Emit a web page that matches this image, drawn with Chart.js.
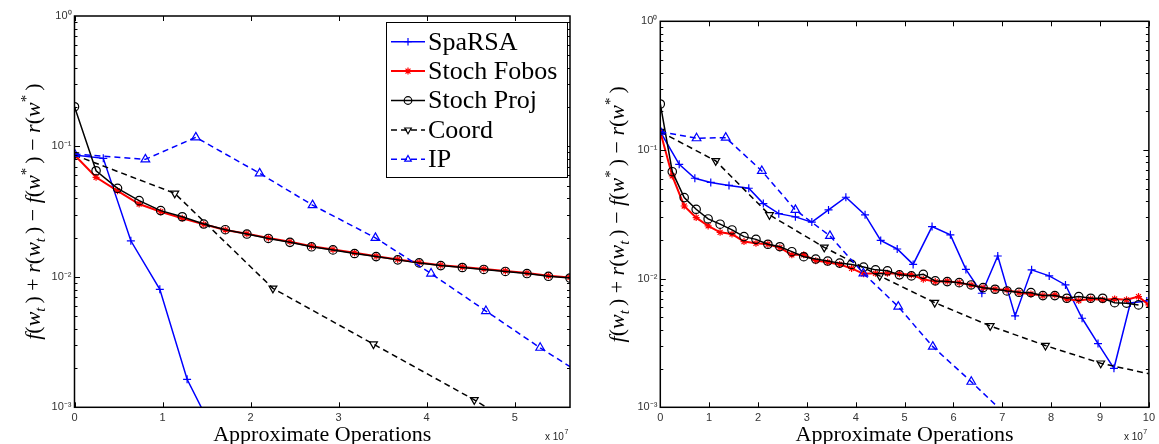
<!DOCTYPE html>
<html>
<head>
<meta charset="utf-8">
<script src="https://cdn.jsdelivr.net/npm/chart.js@4.4.1/dist/chart.umd.min.js"></script>
<style>
  html, body { margin: 0; padding: 0; background: #fff; }
  #wrap { position: relative; width: 1159px; height: 444px; }
  canvas { position: absolute; top: 0; }
  #left { left: 0; }
  #right { left: 580px; }
</style>
</head>
<body>
<div id="wrap">
  <canvas id="left" width="580" height="444"></canvas>
  <canvas id="right" width="579" height="444"></canvas>
</div>
<script>
// series names (legend order)
const seriesNames = ['SpaRSA', 'Stoch Fobos', 'Stoch Proj', 'Coord', 'IP'];

// x values are in units of 1e7 operations
// ---- left panel ----
const leftSpaRSAX = [0, 0.327, 0.640, 0.969, 1.279, 1.590];
const leftSpaRSAY = [0.0859, 0.0810, 0.0189, 0.00802, 0.00164, 0.00063];

const leftStochX = [0, 0.245, 0.489, 0.734, 0.979, 1.224, 1.468, 1.713, 1.958, 2.202, 2.447, 2.692,
  2.936, 3.181, 3.426, 3.671, 3.915, 4.160, 4.405, 4.649, 4.894, 5.139, 5.383, 5.628];
const leftFobosY = [0.0859, 0.0580, 0.0457, 0.0362, 0.0316, 0.0281, 0.0253, 0.0229, 0.0214, 0.0199, 0.0186, 0.0172,
  0.0162, 0.0153, 0.0144, 0.0136, 0.0129, 0.0123, 0.0119, 0.0115, 0.0111, 0.0107, 0.0102, 0.0099];
const leftProjY = [0.2015, 0.0651, 0.0477, 0.0384, 0.0322, 0.0289, 0.0254, 0.0230, 0.0213, 0.0197, 0.0184, 0.0170,
  0.0161, 0.0151, 0.0143, 0.0135, 0.0128, 0.0122, 0.0118, 0.0114, 0.0110, 0.0106, 0.0101, 0.0098];

const leftCoordX = [0, 1.139, 2.254, 3.396, 4.541, 5.675];
const leftCoordY = [0.0859, 0.0437, 0.00816, 0.00305, 0.00114, 0.00039];

const leftIPX = [0, 0.805, 1.378, 2.103, 2.704, 3.418, 4.050, 4.673, 5.289, 5.913];
const leftIPY = [0.0875, 0.0796, 0.1174, 0.0622, 0.0355, 0.0199, 0.0106, 0.00547, 0.00286, 0.00155];

// ---- right panel ----
const rightSpaRSAX = [0, 0.387, 0.707, 1.033, 1.406, 1.811, 2.109, 2.425, 2.765, 3.101,
  3.443, 3.798, 4.191, 4.511, 4.849, 5.175, 5.562, 5.937, 6.255, 6.581,
  6.907, 7.262, 7.600, 7.960, 8.293, 8.633, 8.959, 9.285, 9.621, 9.957];
const rightSpaRSAY = [0.1387, 0.0774, 0.0603, 0.0559, 0.0530, 0.0504, 0.0383, 0.0320, 0.0302, 0.0275,
  0.0342, 0.0429, 0.0313, 0.0198, 0.0170, 0.0129, 0.0254, 0.0219, 0.0118, 0.00770,
  0.0150, 0.00513, 0.0117, 0.0105, 0.00893, 0.00492, 0.00313, 0.00201, 0.00647, 0.00671];

const rightProjX = [0, 0.245, 0.489, 0.734, 0.979, 1.224, 1.468, 1.713, 1.958, 2.202,
  2.447, 2.692, 2.936, 3.181, 3.426, 3.671, 3.915, 4.160, 4.405, 4.649,
  4.894, 5.139, 5.383, 5.628, 5.873, 6.118, 6.362, 6.607, 6.852, 7.096,
  7.341, 7.586, 7.830, 8.075, 8.320, 8.565, 8.809, 9.054, 9.299, 9.543, 9.788];
const rightProjY = [0.2277, 0.0678, 0.0426, 0.0346, 0.0291, 0.0265, 0.0239, 0.0212, 0.0202, 0.0185,
  0.0177, 0.0162, 0.0148, 0.0142, 0.0137, 0.0132, 0.0129, 0.0123, 0.0117, 0.0115,
  0.0107, 0.0105, 0.0108, 0.0096, 0.00948, 0.00931, 0.00893, 0.00851, 0.00827, 0.00802,
  0.00783, 0.00778, 0.00738, 0.00738, 0.00704, 0.00725, 0.00704, 0.00704, 0.00650, 0.00644, 0.00625];

const rightFobosX = [0, 0.245, 0.489, 0.734, 0.979, 1.224, 1.468, 1.713, 1.958, 2.202,
  2.447, 2.692, 2.936, 3.181, 3.426, 3.671, 3.915, 4.160, 4.405, 4.649,
  4.894, 5.139, 5.383, 5.628, 5.873, 6.118, 6.362, 6.607, 6.852, 7.096,
  7.341, 7.586, 7.830, 8.075, 8.320, 8.565, 8.809, 9.054, 9.299, 9.543, 9.788, 10.0];
const rightFobosY = [0.1387, 0.0628, 0.0367, 0.0298, 0.0257, 0.0229, 0.0222, 0.0194, 0.0188, 0.0185,
  0.0174, 0.0153, 0.0153, 0.0138, 0.0134, 0.0129, 0.0120, 0.0109, 0.0110, 0.0110,
  0.0109, 0.0107, 0.00990, 0.00948, 0.00955, 0.00931, 0.00893, 0.00851, 0.00827, 0.00817,
  0.00778, 0.00760, 0.00738, 0.00747, 0.00692, 0.00675, 0.00695, 0.00685, 0.00695, 0.00685, 0.00725, 0.00625];

const rightCoordX = [0, 1.135, 2.235, 3.356, 4.491, 5.617, 6.752, 7.883, 9.014, 10.15];
const rightCoordY = [0.1387, 0.0822, 0.0313, 0.0175, 0.0105, 0.00651, 0.00429, 0.00302, 0.00220, 0.00177];

const rightIPX = [0, 0.742, 1.339, 2.078, 2.765, 3.472, 4.157, 4.870, 5.577, 6.365, 7.080];
const rightIPY = [0.1387, 0.1233, 0.1247, 0.0687, 0.0342, 0.0215, 0.0110, 0.00606, 0.00296, 0.00158, 0.00087];

// ticks
const leftXTicks = [0, 1, 2, 3, 4, 5];
const rightXTicks = [0, 1, 2, 3, 4, 5, 6, 7, 8, 9, 10];
const yTicks = [0.001, 0.01, 0.1, 1];
const yTickLabels = ['10\u207B\u00B3', '10\u207B\u00B2', '10\u207B\u00B9', '10\u2070'];

// line / marker styles per series
const styles = [
  { color: '#0000ff', dash: [], pointStyle: 'cross', radius: 4, rot: 0, width: 1.5 },
  { color: '#ff0000', dash: [], pointStyle: 'star', radius: 3.5, rot: 0, width: 2 },
  { color: '#000000', dash: [], pointStyle: 'circle', radius: 4.2, rot: 0, width: 1.5 },
  { color: '#000000', dash: [6, 4], pointStyle: 'triangle', radius: 4.5, rot: 180, width: 1.5 },
  { color: '#0000ff', dash: [6, 4], pointStyle: 'triangle', radius: 5, rot: 0, width: 1.5 }
];

const serif = '"Liberation Serif", "Times New Roman", serif';
const sans = '"Liberation Sans", Arial, sans-serif';

function pts(xs, ys) {
  return xs.map((x, i) => ({ x: x, y: ys[i] }));
}

function makeDatasets(series) {
  return series.map((s, i) => ({
    label: seriesNames[i],
    data: pts(s[0], s[1]),
    borderColor: styles[i].color,
    borderWidth: styles[i].width,
    borderDash: styles[i].dash,
    pointStyle: styles[i].pointStyle,
    pointRotation: styles[i].rot,
    pointRadius: styles[i].radius,
    pointBorderColor: styles[i].color,
    pointBackgroundColor: 'rgba(0,0,0,0)',
    pointBorderWidth: 1.2,
    tension: 0,
    fill: false,
    order: 4 - i
  }));
}

// y label with sub/superscripts
const yTitleParts = [
  ['f', 'i'], ['(', 'n'], ['w', 'i'], ['t', 'sub'], [')', 'n'], [' + ', 'n'],
  ['r', 'i'], ['(', 'n'], ['w', 'i'], ['t', 'sub'], [')', 'n'], [' \u2212 ', 'n'],
  ['f', 'i'], ['(', 'n'], ['w', 'i'], ['*', 'sup'], [')', 'n'], [' \u2212 ', 'n'],
  ['r', 'i'], ['(', 'n'], ['w', 'i'], ['*', 'sup'], [')', 'n']
];

function partFont(kind) {
  if (kind === 'i') return 'italic 22px ' + serif;
  if (kind === 'sub') return 'italic 15px ' + serif;
  if (kind === 'sup') return '15px ' + serif;
  return '22px ' + serif;
}

function partWidth(ctx, p) {
  ctx.font = partFont(p[1]);
  const extra = (p[1] === 'sub' || p[1] === 'sup') ? 4 : 0;
  return ctx.measureText(p[0]).width + extra;
}

// MATLAB-like box, inward ticks, y title, legend, exponent note
const matlabAxes = {
  id: 'matlabAxes',
  afterDatasetsDraw(chart, args, opts) {
    const ctx = chart.ctx;
    const a = chart.chartArea;
    const xs = chart.scales.x, ys = chart.scales.y;
    ctx.save();

    ctx.strokeStyle = '#000';
    ctx.lineWidth = 1;
    ctx.beginPath();
    xs.ticks.forEach(t => {
      const px = Math.round(xs.getPixelForValue(t.value)) + 0.5;
      ctx.moveTo(px, a.bottom); ctx.lineTo(px, a.bottom - 5);
      ctx.moveTo(px, a.top); ctx.lineTo(px, a.top + 5);
    });
    for (let d = -3; d < 0; d++) {
      for (let m = 1; m <= 9; m++) {
        const v = m * Math.pow(10, d);
        const py = Math.round(ys.getPixelForValue(v)) + 0.5;
        const len = m === 1 ? 5.5 : 3;
        ctx.moveTo(a.left, py); ctx.lineTo(a.left + len, py);
        ctx.moveTo(a.right, py); ctx.lineTo(a.right - len, py);
      }
    }
    ctx.stroke();

    ctx.lineWidth = 1.5;
    ctx.strokeRect(a.left, a.top, a.right - a.left, a.bottom - a.top);

    // y title
    ctx.save();
    ctx.translate(opts.titleX, (a.top + a.bottom) / 2);
    ctx.rotate(-Math.PI / 2);
    ctx.fillStyle = '#000';
    ctx.textBaseline = 'alphabetic';
    ctx.textAlign = 'left';
    let total = 0;
    yTitleParts.forEach(p => { total += partWidth(ctx, p); });
    let tx = -total / 2;
    yTitleParts.forEach(p => {
      const w = partWidth(ctx, p);
      ctx.font = partFont(p[1]);
      let dy = 7;
      if (p[1] === 'sub') dy += 5;
      if (p[1] === 'sup') dy -= 9;
      ctx.fillText(p[0], tx, dy);
      tx += w;
    });
    ctx.restore();

    // x 10^7
    ctx.fillStyle = '#222';
    ctx.textAlign = 'left';
    ctx.textBaseline = 'alphabetic';
    ctx.font = '10px ' + sans;
    const ex = a.right - 25;
    ctx.fillText('x 10', ex, 440);
    const w = ctx.measureText('x 10').width;
    ctx.font = '7px ' + sans;
    ctx.fillText('7', ex + w + 0.5, 434);

    // legend
    if (opts.legend) {
      const L = opts.legend;
      ctx.fillStyle = '#fff';
      ctx.fillRect(L.x, L.y, L.w, L.h);
      ctx.strokeStyle = '#000';
      ctx.lineWidth = 1;
      ctx.strokeRect(L.x + 0.5, L.y + 0.5, L.w, L.h);
      chart.data.datasets.forEach((ds, i) => {
        const cy = L.y + L.first + i * L.row;
        ctx.save();
        ctx.strokeStyle = ds.borderColor;
        ctx.lineWidth = ds.borderWidth;
        ctx.setLineDash(ds.borderDash);
        ctx.beginPath();
        ctx.moveTo(L.x + 5, cy);
        ctx.lineTo(L.x + 39, cy);
        ctx.stroke();
        ctx.setLineDash([]);
        ctx.lineWidth = 1.2;
        ctx.fillStyle = 'rgba(0,0,0,0)';
        Chart.helpers.drawPoint(ctx, {
          pointStyle: ds.pointStyle, rotation: ds.pointRotation,
          radius: Math.min(ds.pointRadius, 3.8), borderWidth: 1.2
        }, L.x + 22, cy);
        ctx.restore();
        ctx.fillStyle = '#000';
        ctx.font = '26px ' + serif;
        ctx.textBaseline = 'middle';
        ctx.fillText(ds.label, L.x + 42, cy + 1);
      });
    }
    ctx.restore();
  }
};

function makeChart(id, series, xMax, xTicks, padRight, padTop, yWidth, titleX, legend) {
  return new Chart(document.getElementById(id), {
    type: 'line',
    data: { datasets: makeDatasets(series) },
    plugins: [matlabAxes],
    options: {
      responsive: false,
      animation: false,
      layout: { padding: { left: 0, right: padRight, top: padTop, bottom: 0 } },
      plugins: {
        legend: { display: false },
        tooltip: { enabled: false },
        matlabAxes: { titleX: titleX, legend: legend }
      },
      scales: {
        x: {
          type: 'linear',
          min: 0,
          max: xMax,
          afterBuildTicks: s => { s.ticks = xTicks.map(v => ({ value: v })); },
          afterFit: s => { s.height = 36.7; },
          grid: { display: false, drawTicks: false },
          border: { display: false },
          ticks: {
            padding: 4,
            color: '#333',
            font: { family: sans, size: 11 },
            callback: v => String(v)
          },
          title: {
            display: true,
            text: 'Approximate Operations',
            color: '#000',
            font: { family: serif, size: 22 },
            padding: { top: 0, bottom: -4 }
          }
        },
        y: {
          type: 'logarithmic',
          min: 0.001,
          max: 1,
          afterBuildTicks: s => { s.ticks = yTicks.map(v => ({ value: v })); },
          afterFit: s => { s.width = yWidth; },
          grid: { display: false, drawTicks: false },
          border: { display: false },
          ticks: {
            padding: 3,
            color: '#333',
            autoSkip: false,
            font: { family: sans, size: 11 },
            callback: (v, i) => yTickLabels[i]
          }
        }
      }
    }
  });
}

makeChart('left', [
  [leftSpaRSAX, leftSpaRSAY],
  [leftStochX, leftFobosY],
  [leftStochX, leftProjY],
  [leftCoordX, leftCoordY],
  [leftIPX, leftIPY]
], 5.628, leftXTicks, 10, 16, 74.5, 32.5,
  { x: 386, y: 22, w: 181, h: 155, first: 19.7, row: 29.4 });

makeChart('right', [
  [rightSpaRSAX, rightSpaRSAY],
  [rightFobosX, rightFobosY],
  [rightProjX, rightProjY],
  [rightCoordX, rightCoordY],
  [rightIPX, rightIPY]
], 10, rightXTicks, 8, 21.3, 80.3, 37, null);
</script>
</body>
</html>
